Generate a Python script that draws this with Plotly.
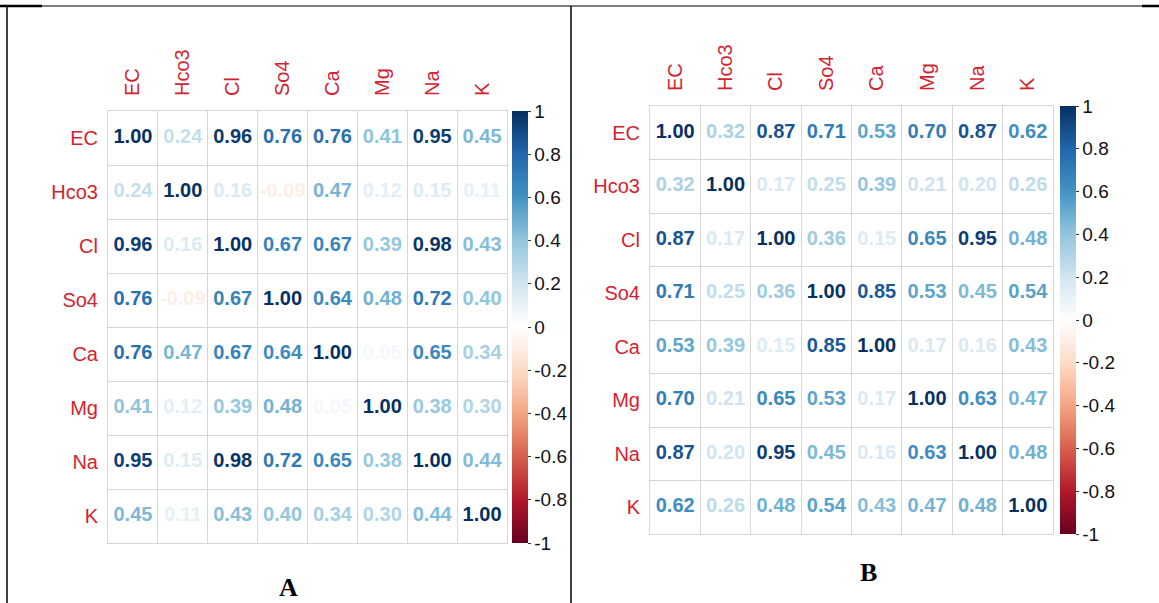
import plotly.graph_objects as go
from plotly.colors import sample_colorscale

# Variables (rows and columns of both correlation matrices)
VARS = ["EC", "Hco3", "Cl", "So4", "Ca", "Mg", "Na", "K"]

# Correlation matrix A
CORR_A = [
    [1.00, 0.24, 0.96, 0.76, 0.76, 0.41, 0.95, 0.45],
    [0.24, 1.00, 0.16, -0.09, 0.47, 0.12, 0.15, 0.11],
    [0.96, 0.16, 1.00, 0.67, 0.67, 0.39, 0.98, 0.43],
    [0.76, -0.09, 0.67, 1.00, 0.64, 0.48, 0.72, 0.40],
    [0.76, 0.47, 0.67, 0.64, 1.00, 0.05, 0.65, 0.34],
    [0.41, 0.12, 0.39, 0.48, 0.05, 1.00, 0.38, 0.30],
    [0.95, 0.15, 0.98, 0.72, 0.65, 0.38, 1.00, 0.44],
    [0.45, 0.11, 0.43, 0.40, 0.34, 0.30, 0.44, 1.00],
]

# Correlation matrix B
CORR_B = [
    [1.00, 0.32, 0.87, 0.71, 0.53, 0.70, 0.87, 0.62],
    [0.32, 1.00, 0.17, 0.25, 0.39, 0.21, 0.20, 0.26],
    [0.87, 0.17, 1.00, 0.36, 0.15, 0.65, 0.95, 0.48],
    [0.71, 0.25, 0.36, 1.00, 0.85, 0.53, 0.45, 0.54],
    [0.53, 0.39, 0.15, 0.85, 1.00, 0.17, 0.16, 0.43],
    [0.70, 0.21, 0.65, 0.53, 0.17, 1.00, 0.63, 0.47],
    [0.87, 0.20, 0.95, 0.45, 0.16, 0.63, 1.00, 0.48],
    [0.62, 0.26, 0.48, 0.54, 0.43, 0.47, 0.48, 1.00],
]

CB_TICKS = [-1, -0.8, -0.6, -0.4, -0.2, 0, 0.2, 0.4, 0.6, 0.8, 1]
CB_LABELS = ["-1", "-0.8", "-0.6", "-0.4", "-0.2", "0", "0.2", "0.4", "0.6", "0.8", "1"]

W, H = 1159, 603

# Diverging red-blue palette (dark red -> white -> dark blue)
RDBU = ["#67001F", "#B2182B", "#D6604D", "#F4A582", "#FDDBC7", "#FFFFFF",
        "#D1E5F0", "#92C5DE", "#4393C3", "#2166AC", "#053061"]
SCALE = [[i / 10, c] for i, c in enumerate(RDBU)]

LABEL_RED = "#d42230"
GRID = "#d6d6d6"
SANS = "Liberation Sans, Arial, sans-serif"
SERIF = "Liberation Serif, Times New Roman, serif"


def px(x):
    return x / W


def py(y):
    return 1 - y / H


panels = [
    dict(z=CORR_A, name="A", left=108, right=507, top=111, bottom=543, cbx=512,
         lx=288, ly=587),
    dict(z=CORR_B, name="B", left=650, right=1053, top=106, bottom=534, cbx=1060,
         lx=868, ly=572),
]

fig = go.Figure()
layout_axes = {}

for i, p in enumerate(panels):
    n = len(VARS)
    xs, ys, vals = [], [], []
    for r in range(n):
        for c in range(n):
            xs.append(c + 1)
            ys.append(r + 1)
            vals.append(p["z"][r][c])
    colors = sample_colorscale(SCALE, [(v + 1) / 2 for v in vals])
    texts = [f"{v:.2f}" for v in vals]

    xa = "x" if i == 0 else f"x{i + 1}"
    ya = "y" if i == 0 else f"y{i + 1}"

    fig.add_trace(go.Scatter(
        x=xs, y=ys, mode="markers+text", text=texts,
        textposition="middle center",
        textfont=dict(family=SANS, size=20, color=colors, weight="bold"),
        marker=dict(
            size=1, opacity=0, color=vals, colorscale=SCALE, cmin=-1, cmax=1,
            showscale=True,
            colorbar=dict(
                x=px(p["cbx"]), xanchor="left", xpad=0,
                y=py(p["top"]), yanchor="top", ypad=0,
                lenmode="pixels", len=p["bottom"] - p["top"],
                thicknessmode="pixels", thickness=16,
                outlinewidth=0,
                tickmode="array", tickvals=CB_TICKS, ticktext=CB_LABELS,
                ticks="outside", ticklen=3, tickcolor="#333",
                tickfont=dict(family=SANS, size=19, color="#111"),
            ),
        ),
        hoverinfo="skip", showlegend=False, xaxis=xa, yaxis=ya,
    ))

    axis_common = dict(
        showline=True, mirror=True, linecolor=GRID, linewidth=1,
        zeroline=False, showgrid=False,
        tickmode="array", tickvals=list(range(1, n + 1)), ticktext=VARS,
        ticks="", tickfont=dict(family=SANS, size=20, color=LABEL_RED),
        minor=dict(tickmode="linear", tick0=0.5, dtick=1, showgrid=True,
                   gridcolor=GRID, gridwidth=1, ticks=""),
        fixedrange=True,
    )
    xkey = "xaxis" if i == 0 else f"xaxis{i + 1}"
    ykey = "yaxis" if i == 0 else f"yaxis{i + 1}"
    layout_axes[xkey] = dict(
        axis_common, domain=[px(p["left"]), px(p["right"])],
        range=[0.5, n + 0.5], side="top", tickangle=-90,
        ticklabelstandoff=10, anchor=ya,
    )
    layout_axes[ykey] = dict(
        axis_common, domain=[py(p["bottom"]), py(p["top"])],
        range=[n + 0.5, 0.5], ticklabelstandoff=5, anchor=xa,
    )

fig.update_layout(
    width=W, height=H,
    margin=dict(l=0, r=0, t=0, b=0),
    paper_bgcolor="white", plot_bgcolor="white",
    **layout_axes,
)

# Panel letters
for p in panels:
    fig.add_annotation(
        x=px(p["lx"]), y=py(p["ly"]), xref="paper", yref="paper",
        text=f"<b>{p['name']}</b>", showarrow=False,
        font=dict(family=SERIF, size=26, color="black"),
        xanchor="center", yanchor="middle",
    )

# Table frame around the two panels
frame = [
    dict(x0=7, y0=6, x1=1142, y1=6, w=1.2),
    dict(x0=0, y0=6, x1=42, y1=6, w=2.5),
    dict(x0=1142, y0=6, x1=1159, y1=6, w=2.5),
    dict(x0=7, y0=6, x1=7, y1=603, w=1.5),
    dict(x0=571, y0=6, x1=571, y1=603, w=1.5),
]
for s in frame:
    fig.add_shape(
        type="line", xref="paper", yref="paper",
        x0=px(s["x0"]), y0=py(s["y0"]), x1=px(s["x1"]), y1=py(s["y1"]),
        line=dict(color="black", width=s["w"]),
    )

fig.write_html("out.html")
